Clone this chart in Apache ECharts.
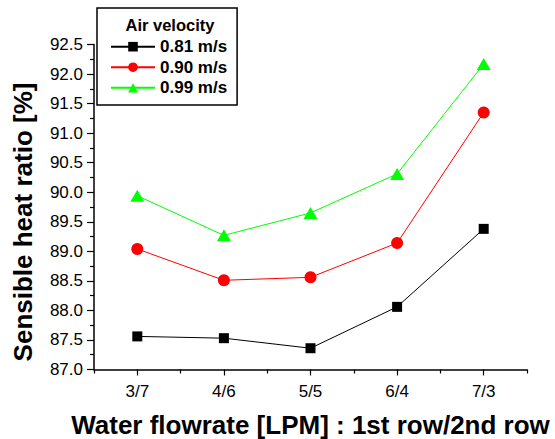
<!DOCTYPE html>
<html>
<head>
<meta charset="utf-8">
<script src="https://cdn.jsdelivr.net/npm/echarts@6/dist/echarts.min.js"></script>
<style>
html,body{margin:0;padding:0;background:#fff;}
#chart{width:555px;height:439px;}
</style>
</head>
<body>
<div id="chart"></div>
<script>
const categories = ['3/7', '4/6', '5/5', '6/4', '7/3'];
const seriesNames = ['0.81 m/s', '0.90 m/s', '0.99 m/s'];
const values081 = [87.56, 87.53, 87.36, 88.06, 89.38];
const values090 = [89.04, 88.51, 88.56, 89.14, 91.35];
const values099 = [89.94, 89.27, 89.65, 90.31, 92.17];
const legendTitle = 'Air velocity';
const xTitle = 'Water flowrate [LPM] : 1st row/2nd row';
const yTitle = 'Sensible heat ratio [%]';

const FONT = '"Liberation Sans", Arial, sans-serif';
const chart = echarts.init(document.getElementById('chart'), null, {renderer: 'svg'});

const mk = (name, data, color, symbol, size) => ({
  name: name,
  type: 'line',
  data: data,
  symbol: symbol,
  symbolSize: size,
  showSymbol: true,
  itemStyle: {color: color},
  lineStyle: {color: color, width: 1},
  emphasis: {disabled: true},
  animation: false
});

chart.setOption({
  backgroundColor: '#fff',
  animation: false,
  grid: {left: 94, right: 28, top: 44.5, bottom: 69.5, containLabel: false, outerBoundsMode: 'none'},
  legend: {
    orient: 'vertical',
    left: 97,
    top: 8,
    data: seriesNames,
    borderColor: '#000',
    borderWidth: 1.5,
    padding: [30.2, 10, 8.8, 13],
    itemWidth: 44,
    itemHeight: 12,
    itemGap: 3.5,
    selectedMode: false,
    textStyle: {fontFamily: FONT, fontWeight: 'bold', fontSize: 17, color: '#000', lineHeight: 17}
  },
  graphic: [{
    type: 'text',
    x: 170,
    y: 24.5,
    style: {text: legendTitle, font: 'bold 16.5px ' + FONT, fill: '#000', align: 'center', verticalAlign: 'middle'}
  }],
  xAxis: [{
    type: 'category',
    data: categories,
    boundaryGap: true,
    position: 'bottom',
    name: xTitle,
    nameLocation: 'middle',
    nameGap: 43,
    nameTextStyle: {fontFamily: FONT, fontWeight: 'bold', fontSize: 26, lineHeight: 24, color: '#000'},
    axisLine: {show: true, lineStyle: {color: '#000', width: 1.5}},
    axisTick: {show: true, alignWithLabel: true, length: 6, inside: false, lineStyle: {color: '#000', width: 1.2}},
    axisLabel: {fontFamily: FONT, fontSize: 17, color: '#000', margin: 13},
    splitLine: {show: false}
  }, {
    type: 'category',
    data: categories,
    boundaryGap: true,
    position: 'bottom',
    gridIndex: 0,
    axisLine: {show: false},
    axisTick: {show: true, alignWithLabel: false, length: 4, inside: false, lineStyle: {color: '#000', width: 1.2}},
    axisLabel: {show: false},
    splitLine: {show: false}
  }],
  yAxis: {
    type: 'value',
    min: 87.0,
    max: 92.5,
    interval: 0.5,
    name: yTitle,
    nameLocation: 'middle',
    nameGap: 58,
    nameTextStyle: {fontFamily: FONT, fontWeight: 'bold', fontSize: 26, color: '#000', padding: [0, 30, 0, 0]},
    axisLine: {show: true, lineStyle: {color: '#000', width: 1.5}},
    axisTick: {show: true, length: 7, inside: false, lineStyle: {color: '#000', width: 1.2}},
    minorTick: {show: true, splitNumber: 2, length: 4, lineStyle: {color: '#000', width: 1.2}},
    axisLabel: {fontFamily: FONT, fontSize: 17, color: '#000', margin: 11, formatter: v => v.toFixed(1)},
    splitLine: {show: false}
  },
  series: [
    mk(seriesNames[0], values081, '#000000', 'rect', 10),
    mk(seriesNames[1], values090, '#ff0000', 'circle', 12),
    mk(seriesNames[2], values099, '#00ff00', 'triangle', [14, 12])
  ]
});
</script>
</body>
</html>
